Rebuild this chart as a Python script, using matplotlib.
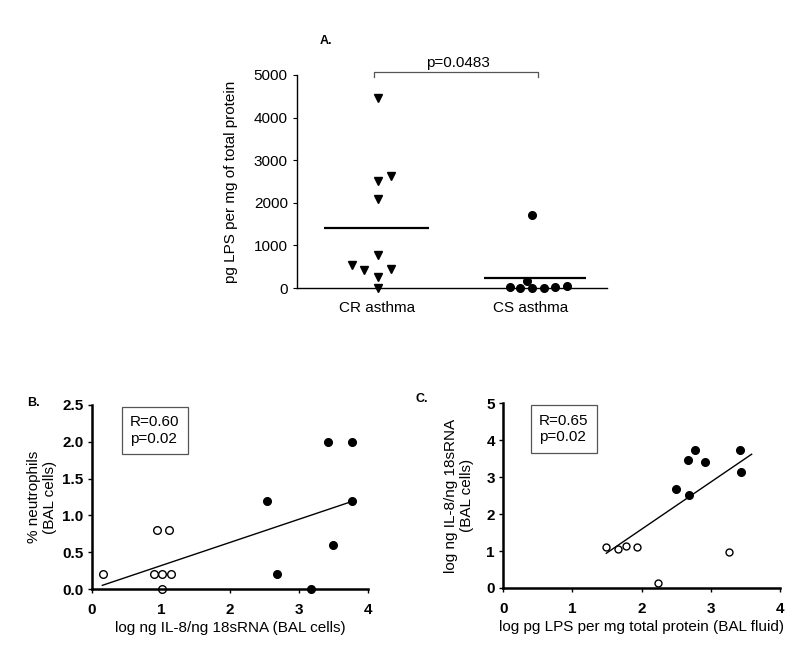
import matplotlib
matplotlib.use('Agg')
import matplotlib.pyplot as plt
import numpy as np

# Panel A - LPS par groupe
groups = ['CR asthma', 'CS asthma']
cr_values = [4450, 2630, 2520, 2090, 780, 550, 430, 460, 270, 0]
cr_jitter = [0.01, 0.09, 0.01, 0.01, 0.01, -0.16, -0.08, 0.09, 0.01, 0.01]
cs_values = [1720, 160, 20, 10, 0, 0, 20, 40]
cs_jitter = [0.01, -0.02, -0.13, -0.065, 0.01, 0.09, 0.16, 0.24]
p_value_a = 'p=0.0483'

# Panel B - neutrophiles vs IL-8
b_open_x = [0.16, 0.94, 1.11, 0.90, 1.02, 1.14, 1.02]
b_open_y = [0.2, 0.8, 0.8, 0.2, 0.2, 0.2, 0.0]
b_fill_x = [2.54, 2.68, 3.17, 3.42, 3.77, 3.77, 3.49]
b_fill_y = [1.2, 0.2, 0.0, 2.0, 2.0, 1.2, 0.6]
b_fit_x = [0.15, 3.77]
b_fit_y = [0.05, 1.19]

# Panel C - IL-8 vs LPS
c_open_x = [1.48, 1.66, 1.78, 1.94, 2.24, 3.26]
c_open_y = [1.10, 1.05, 1.14, 1.12, 0.14, 0.98]
c_fill_x = [2.50, 2.67, 2.69, 2.77, 2.92, 3.42, 3.44]
c_fill_y = [2.67, 3.47, 2.53, 3.74, 3.40, 3.74, 3.14]
c_fit_x = [1.49, 3.59]
c_fit_y = [0.94, 3.62]

plt.rcParams['font.family'] = ['Liberation Sans', 'DejaVu Sans']
FS = 11  # taille de police commune

fig = plt.figure(figsize=(8, 6.46), dpi=100, facecolor='white')

# ---------- Panel A ----------
ax_a = fig.add_axes([0.371, 0.554, 0.388, 0.330])
x_cr = 1 + np.array(cr_jitter)
x_cs = 2 + np.array(cs_jitter)
ax_a.plot(x_cr, cr_values, 'kv', markersize=6, clip_on=False)
ax_a.plot(x_cs, cs_values, 'ko', markersize=5.5, clip_on=False)
ax_a.hlines(np.mean(cr_values), 0.66, 1.34, colors='black', linewidth=1.6)
ax_a.hlines(np.mean(cs_values), 1.70, 2.36, colors='black', linewidth=1.6)

ax_a.set_xlim(0.48, 2.5)
ax_a.set_ylim(0, 5000)
ax_a.set_yticks([0, 1000, 2000, 3000, 4000, 5000])
ax_a.set_xticks([1, 2])
ax_a.set_xticklabels(groups, fontsize=FS)
ax_a.tick_params(axis='y', labelsize=FS, length=3, width=0.8)
ax_a.tick_params(axis='x', length=0, pad=9)
ax_a.spines['top'].set_visible(False)
ax_a.spines['right'].set_visible(False)
ax_a.spines['left'].set_linewidth(1.0)
ax_a.spines['bottom'].set_linewidth(1.0)
ax_a.set_ylabel('pg LPS per mg of total protein', fontsize=FS, labelpad=11)

# Crochet de significativité
ax_a.plot([0.98, 0.98, 2.05, 2.05], [4960, 5070, 5070, 4960], color='#555555',
          linewidth=0.9, clip_on=False)
ax_a.text(1.53, 5110, p_value_a, ha='center', va='bottom', fontsize=FS)
fig.text(0.40, 0.932, 'A.', fontsize=9, fontweight='bold')


def style_scatter(ax):
    ax.spines['top'].set_visible(False)
    ax.spines['right'].set_visible(False)
    ax.spines['left'].set_linewidth(1.8)
    ax.spines['bottom'].set_linewidth(1.8)
    ax.tick_params(labelsize=FS, length=3, width=1.0)
    ax.tick_params(axis='y', pad=3)
    ax.tick_params(axis='x', pad=7)
    for lab in ax.get_xticklabels() + ax.get_yticklabels():
        lab.set_fontweight('bold')


# ---------- Panel B ----------
ax_b = fig.add_axes([0.115, 0.0882, 0.345, 0.285])
ax_b.plot(b_fit_x, b_fit_y, color='black', linewidth=1.0)
ax_b.plot(b_open_x, b_open_y, 'o', markersize=5.5, markerfacecolor='white',
          markeredgecolor='black', markeredgewidth=1.0, clip_on=False)
ax_b.plot(b_fill_x, b_fill_y, 'ko', markersize=5.5, clip_on=False)
ax_b.set_xlim(0, 4)
ax_b.set_ylim(0, 2.5)
ax_b.set_xticks([0, 1, 2, 3, 4])
ax_b.set_yticks([0.0, 0.5, 1.0, 1.5, 2.0, 2.5])
ax_b.set_yticklabels(['0.0', '0.5', '1.0', '1.5', '2.0', '2.5'])
style_scatter(ax_b)
ax_b.set_xlabel('log ng IL-8/ng 18sRNA (BAL cells)', fontsize=FS, labelpad=3)
ax_b.set_ylabel('% neutrophils\n(BAL cells)', fontsize=FS, labelpad=4)
ax_b.text(0.55, 2.36, 'R=0.60\np=0.02', fontsize=FS, va='top', ha='left',
          linespacing=1.25,
          bbox=dict(boxstyle='square,pad=0.55', facecolor='white', edgecolor='#555555', linewidth=0.9))
fig.text(0.034, 0.372, 'B.', fontsize=9, fontweight='bold')

# ---------- Panel C ----------
ax_c = fig.add_axes([0.629, 0.0898, 0.346, 0.286])
ax_c.plot(c_fit_x, c_fit_y, color='black', linewidth=1.0)
ax_c.plot(c_open_x, c_open_y, 'o', markersize=5.0, markerfacecolor='white',
          markeredgecolor='black', markeredgewidth=1.0, clip_on=False)
ax_c.plot(c_fill_x, c_fill_y, 'ko', markersize=5.5, clip_on=False)
ax_c.set_xlim(0, 4)
ax_c.set_ylim(0, 5)
ax_c.set_xticks([0, 1, 2, 3, 4])
ax_c.set_yticks([0, 1, 2, 3, 4, 5])
style_scatter(ax_c)
ax_c.set_xlabel('log pg LPS per mg total protein (BAL fluid)', fontsize=FS, labelpad=3)
ax_c.set_ylabel('log ng IL-8/ng 18sRNA\n(BAL cells)', fontsize=FS, labelpad=9)
ax_c.text(0.52, 4.72, 'R=0.65\np=0.02', fontsize=FS, va='top', ha='left',
          linespacing=1.25,
          bbox=dict(boxstyle='square,pad=0.55', facecolor='white', edgecolor='#555555', linewidth=0.9))
fig.text(0.519, 0.378, 'C.', fontsize=9, fontweight='bold')

fig.savefig('out.png', dpi=100, facecolor='white')
plt.close('all')
